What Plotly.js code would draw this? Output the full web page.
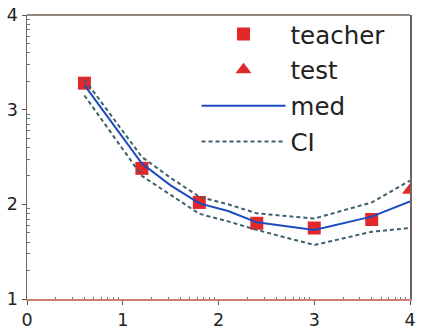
<!DOCTYPE html>
<html>
<head>
<meta charset="utf-8">
<script src="https://cdn.plot.ly/plotly-3.0.1.min.js"></script>
<style>html,body{margin:0;padding:0;background:#fff;}#chart{width:423px;height:333px;}</style>
</head>
<body>
<div id="chart"></div>
<script>
var teacherX = [0.6, 1.2, 1.8, 2.4, 3.0, 3.6];
var teacherY = [3.28, 2.38, 2.02, 1.80, 1.75, 1.84];
var testX = [4.0];
var testY = [2.15];
var curveX = [0.6, 1.2, 1.5, 1.8, 2.1, 2.4, 3.0, 3.6, 4.0];
var medY = [3.26, 2.43, 2.20, 2.01, 1.93, 1.81, 1.73, 1.87, 2.03];
var ciUpper = [3.32, 2.50, 2.28, 2.08, 2.00, 1.905, 1.85, 2.02, 2.25];
var ciLower = [3.15, 2.30, 2.10, 1.90, 1.82, 1.73, 1.57, 1.71, 1.75];
var xTicks = [0, 1, 2, 3, 4];
var yTicks = [1, 2, 3, 4];
var seriesNames = ['teacher', 'test', 'med', 'CI'];

function minorTicks(lo, hi) {
  var out = [];
  for (var d = lo; d < hi; d++) {
    for (var k = 2; k <= 9; k++) out.push(d + Math.log10(k));
  }
  return out;
}

var red = '#e3282b', blue = '#1b4cbf', ciCol = '#3e5f6c';
var traces = [
  {x: teacherX, y: teacherY, name: seriesNames[0], mode: 'markers', type: 'scatter',
   legendgroup: 'a', marker: {symbol: 'square', size: 13, color: red}},
  {x: testX, y: testY, name: seriesNames[1], mode: 'markers', type: 'scatter',
   legendgroup: 'b', marker: {symbol: 'triangle-up', size: 14, color: red}},
  {x: curveX, y: medY, name: seriesNames[2], mode: 'lines', type: 'scatter',
   legendgroup: 'c', line: {color: blue, width: 2}},
  {x: curveX, y: ciUpper, name: seriesNames[3], mode: 'lines', type: 'scatter',
   legendgroup: 'd', line: {color: ciCol, width: 2, dash: '4px,3px'}},
  {x: curveX, y: ciLower, name: seriesNames[3], mode: 'lines', type: 'scatter',
   legendgroup: 'd', showlegend: false, line: {color: ciCol, width: 2, dash: '4px,3px'}}
];

var tickFont = {family: 'DejaVu Sans', size: 17.5, color: '#222'};
var layout = {
  width: 423, height: 333,
  margin: {l: 27, r: 13, t: 15, b: 34},
  paper_bgcolor: '#fff', plot_bgcolor: '#fff',
  showlegend: true,
  legend: {x: 0.4426, y: 1.012, xanchor: 'left', yanchor: 'top', bgcolor: 'rgba(0,0,0,0)',
           font: {family: 'DejaVu Sans', size: 24.5, color: '#222'},
           traceorder: 'grouped', tracegroupgap: 1, itemwidth: 84},
  xaxis: {range: [0, 4], tickvals: xTicks, ticktext: xTicks.map(String), showgrid: false, zeroline: false,
          showline: true, linecolor: '#c98070', linewidth: 1.5,
          ticks: 'outside', ticklen: 4, tickcolor: '#555', tickfont: tickFont,
          minor: {tickmode: 'array', tickvals: minorTicks(0, 4), ticks: 'inside', ticklen: 2.5, tickcolor: '#5a7a8a'}},
  yaxis: {range: [1, 4], tickvals: yTicks, ticktext: yTicks.map(String), showgrid: false, zeroline: false,
          showline: true, mirror: true, linecolor: '#6d6460', linewidth: 1.5,
          ticks: 'outside', ticklen: 4, tickcolor: '#555', tickfont: tickFont,
          minor: {tickmode: 'array', tickvals: minorTicks(1, 4), ticks: 'inside', ticklen: 2.5, tickcolor: '#5a7a8a'}},
  shapes: [{type: 'line', xref: 'paper', yref: 'paper', x0: 0, x1: 1, y0: 1, y1: 1,
            line: {color: '#6d6058', width: 1.5}}]
};
Plotly.newPlot('chart', traces, layout, {displayModeBar: false, staticPlot: true});
</script>
</body>
</html>
